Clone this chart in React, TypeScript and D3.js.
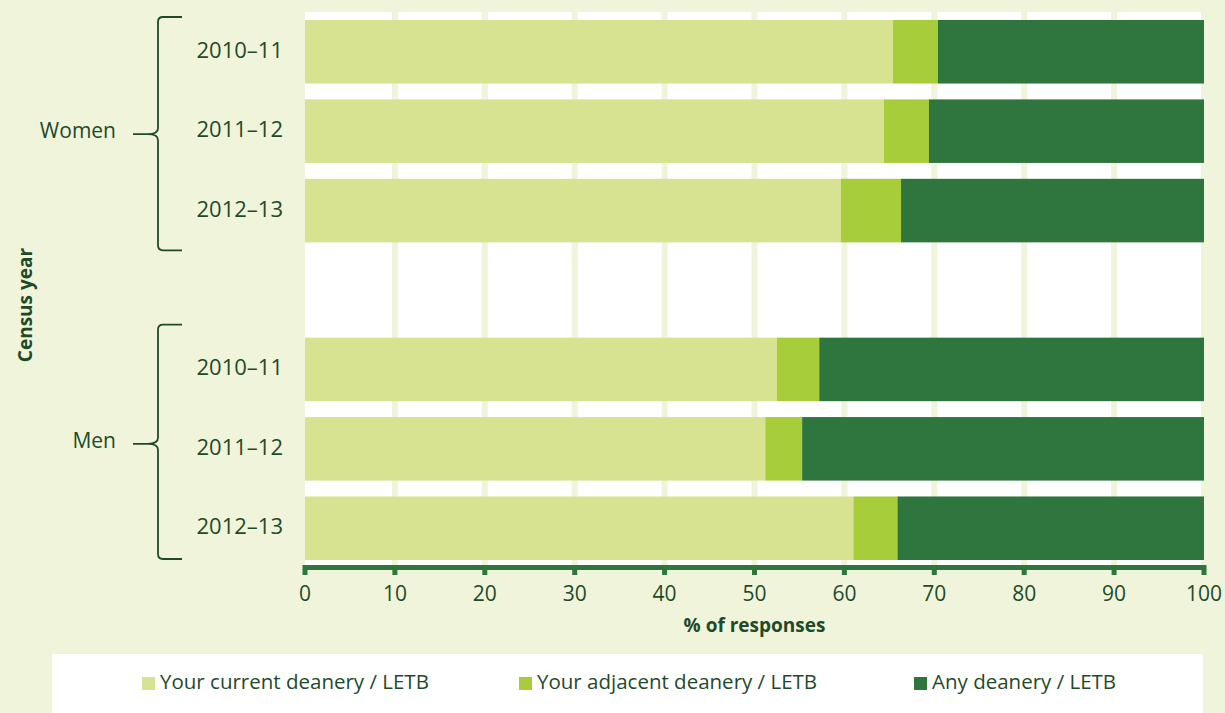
import React, { useEffect, useRef } from "react";
import * as d3 from "d3";

const groups = ["Women", "Men"];
const years = ["2010–11", "2011–12", "2012–13"];
const seriesNames = ["Your current deanery / LETB", "Your adjacent deanery / LETB", "Any deanery / LETB"];
// values in %, per group then year
const currentVals = [65.4, 64.4, 59.6, 52.5, 51.2, 61.0];
const adjacentVals = [5.0, 5.0, 6.7, 4.7, 4.1, 4.9];
const anyVals = [29.6, 30.6, 33.7, 42.8, 44.7, 34.1];
const xTicks = [0, 10, 20, 30, 40, 50, 60, 70, 80, 90, 100];

const W = 1225;
const H = 713;
const BG = "#f0f4da";
const COLORS = ["#d7e391", "#a8cd3a", "#2e763d"];
const TEXT = "#1f4a2a";
const FONT = "'Open Sans', 'Noto Sans', sans-serif";

const App = () => {
  const ref = useRef<SVGSVGElement | null>(null);

  useEffect(() => {
    if (!ref.current) return;
    const svg = d3.select(ref.current);
    svg.selectAll("*").remove();

    const x = d3.scaleLinear().domain([0, 100]).range([305, 1204]);
    // 7 slots: 3 women rows, one empty, 3 men rows
    const slots = ["W0", "W1", "W2", "gap", "M0", "M1", "M2"];
    const y = d3.scaleBand().domain(slots).range([20, 560]).paddingInner(0.2).paddingOuter(0);

    svg.append("rect").attr("width", W).attr("height", H).attr("fill", BG);

    // white plot panel
    svg.append("rect").attr("x", x(0)).attr("y", 12).attr("width", x(100) - x(0) - 3).attr("height", 553).attr("fill", "#fff");

    // gridlines
    svg.selectAll(".grid").data(xTicks.slice(1, -1)).enter().append("rect")
      .attr("x", (d) => x(d) - 3).attr("y", 12).attr("width", 6).attr("height", 553).attr("fill", BG);

    const rows = slots.filter((s) => s !== "gap");
    rows.forEach((s, i) => {
      const vals = [currentVals[i], adjacentVals[i], anyVals[i]];
      let acc = 0;
      vals.forEach((v, k) => {
        svg.append("rect")
          .attr("x", x(acc)).attr("y", y(s)!)
          .attr("width", x(acc + v) - x(acc)).attr("height", y.bandwidth())
          .attr("fill", COLORS[k]);
        acc += v;
      });
      svg.append("text")
        .attr("x", 283).attr("y", y(s)! + y.bandwidth() / 2 - 3)
        .attr("text-anchor", "end").attr("dominant-baseline", "central")
        .attr("fill", TEXT).style("font-family", FONT).style("font-size", "22px")
        .text(years[i % 3]);
    });

    // braces
    const braceTop = [-3, -13];
    const braceBot = [8, -1];
    const braceMid = [3, -5];
    groups.forEach((g, gi) => {
      const top = y(rows[gi * 3])! + braceTop[gi];
      const bot = y(rows[gi * 3 + 2])! + y.bandwidth() + braceBot[gi];
      const mid = y(rows[gi * 3 + 1])! + y.bandwidth() / 2 + braceMid[gi];
      const bx = 158;
      const p = d3.path();
      p.moveTo(182, top);
      p.lineTo(bx + 5, top);
      p.quadraticCurveTo(bx, top, bx, top + 5);
      p.lineTo(bx, mid - 6);
      p.quadraticCurveTo(bx, mid, bx - 10, mid);
      p.lineTo(133, mid);
      p.moveTo(bx - 10, mid);
      p.quadraticCurveTo(bx, mid, bx, mid + 6);
      p.lineTo(bx, bot - 5);
      p.quadraticCurveTo(bx, bot, bx + 5, bot);
      p.lineTo(182, bot);
      svg.append("path").attr("d", p.toString()).attr("fill", "none")
        .attr("stroke", TEXT).attr("stroke-width", 1.8);
      svg.append("text")
        .attr("x", 116).attr("y", mid - 4)
        .attr("text-anchor", "end").attr("dominant-baseline", "central")
        .attr("fill", TEXT).style("font-family", FONT).style("font-size", "21px")
        .text(g);
    });

    // x axis
    svg.append("rect").attr("x", x(0) - 2).attr("y", 565).attr("width", x(100) - x(0) + 2).attr("height", 5).attr("fill", COLORS[2]);
    svg.selectAll(".tick").data(xTicks).enter().append("rect")
      .attr("x", (d) => x(d) - 2.5).attr("y", 565).attr("width", 5).attr("height", 10).attr("fill", COLORS[2]);
    svg.selectAll(".tl").data(xTicks).enter().append("text")
      .attr("x", (d) => x(d)).attr("y", 601)
      .attr("text-anchor", "middle")
      .attr("fill", TEXT).style("font-family", FONT).style("font-size", "21px")
      .text((d) => d);

    svg.append("text")
      .attr("x", (x(0) + x(100)) / 2).attr("y", 632)
      .attr("text-anchor", "middle")
      .attr("fill", TEXT).style("font-family", FONT).style("font-size", "19px").style("font-weight", "bold")
      .text("% of responses");

    svg.append("text")
      .attr("transform", "translate(32,305) rotate(-90)")
      .attr("text-anchor", "middle")
      .attr("fill", TEXT).style("font-family", FONT).style("font-size", "19px").style("font-weight", "bold")
      .text("Census year");

    // legend
    svg.append("rect").attr("x", 52).attr("y", 654).attr("width", 1151).attr("height", 59).attr("fill", "#fff");
    const legX = [142, 519, 914];
    seriesNames.forEach((n, i) => {
      svg.append("rect").attr("x", legX[i]).attr("y", 677).attr("width", 13).attr("height", 13).attr("fill", COLORS[i]);
      svg.append("text")
        .attr("x", legX[i] + 18).attr("y", 689)
        .attr("fill", TEXT).style("font-family", FONT).style("font-size", "20.5px")
        .text(n);
    });
  }, []);

  return (
    <svg ref={ref} width={W} height={H} style={{ display: "block", position: "absolute", left: 0, top: 0 }}></svg>
  );
};

export default App;
